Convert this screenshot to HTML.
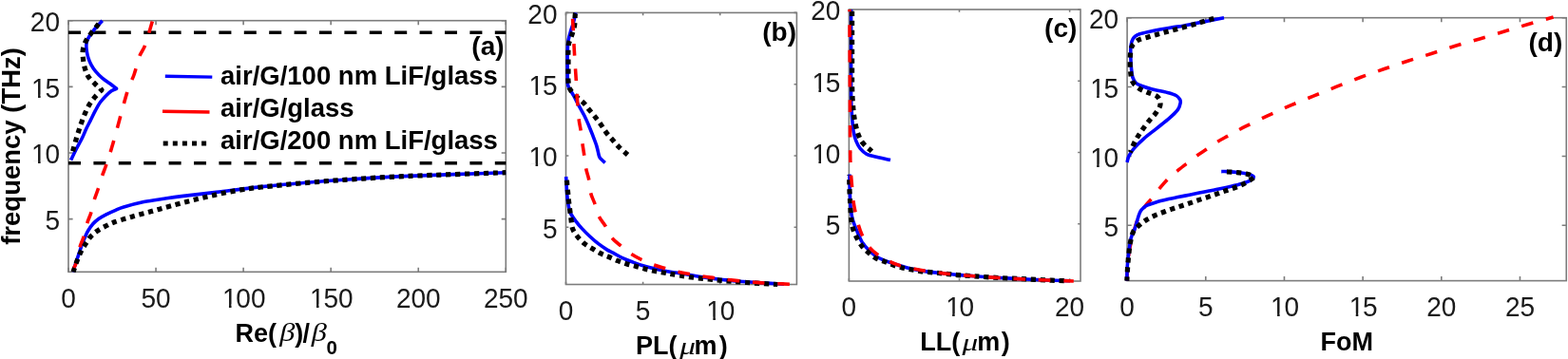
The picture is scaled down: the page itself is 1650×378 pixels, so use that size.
<!DOCTYPE html>
<html><head><meta charset="utf-8"><title>figure</title><style>html,body{margin:0;padding:0;background:#fff;}svg{display:block;}</style></head><body>
<svg width="1650" height="378" viewBox="0 0 1650 378">
<rect width="100%" height="100%" fill="#ffffff"/>
<path d="M72.00,286.30V281.70 M72.00,21.70V26.30 M164.06,286.30V281.70 M164.06,21.70V26.30 M256.12,286.30V281.70 M256.12,21.70V26.30 M348.18,286.30V281.70 M348.18,21.70V26.30 M440.24,286.30V281.70 M440.24,21.70V26.30 M532.30,286.30V281.70 M532.30,21.70V26.30 M72.00,230.59H76.60 M532.30,230.59H527.70 M72.00,160.96H76.60 M532.30,160.96H527.70 M72.00,91.33H76.60 M532.30,91.33H527.70 M72.00,21.70H76.60 M532.30,21.70H527.70 " stroke="#7c7c7c" stroke-width="1.6" fill="none"/>
<rect x="72.00" y="21.70" width="460.30" height="264.60" fill="none" stroke="#7c7c7c" stroke-width="1.6"/>
<text transform="translate(64.21,323.50) scale(1,1.06)" font-family="Liberation Sans, Arial, sans-serif" font-size="28" fill="#1a1a1a">0</text>
<text transform="translate(148.49,323.50) scale(1,1.06)" font-family="Liberation Sans, Arial, sans-serif" font-size="28" fill="#1a1a1a">50</text>
<text transform="translate(232.76,323.50) scale(1,1.06)" font-family="Liberation Sans, Arial, sans-serif" font-size="28" fill="#1a1a1a"><tspan dx="1.2">1</tspan><tspan dx="-1.2">00</tspan></text>
<rect x="235.49" y="320.38" width="5.46" height="3.92" fill="#fff"/>
<rect x="243.53" y="320.38" width="5.29" height="3.92" fill="#fff"/>
<text transform="translate(324.82,323.50) scale(1,1.06)" font-family="Liberation Sans, Arial, sans-serif" font-size="28" fill="#1a1a1a"><tspan dx="1.2">1</tspan><tspan dx="-1.2">50</tspan></text>
<rect x="327.55" y="320.38" width="5.46" height="3.92" fill="#fff"/>
<rect x="335.59" y="320.38" width="5.29" height="3.92" fill="#fff"/>
<text transform="translate(416.88,323.50) scale(1,1.06)" font-family="Liberation Sans, Arial, sans-serif" font-size="28" fill="#1a1a1a">200</text>
<text transform="translate(508.94,323.50) scale(1,1.06)" font-family="Liberation Sans, Arial, sans-serif" font-size="28" fill="#1a1a1a">250</text>
<text transform="translate(47.43,241.99) scale(1,1.06)" font-family="Liberation Sans, Arial, sans-serif" font-size="28" fill="#1a1a1a">5</text>
<text transform="translate(31.86,172.36) scale(1,1.06)" font-family="Liberation Sans, Arial, sans-serif" font-size="28" fill="#1a1a1a"><tspan dx="1.2">1</tspan><tspan dx="-1.2">0</tspan></text>
<rect x="34.59" y="169.25" width="5.46" height="3.92" fill="#fff"/>
<rect x="42.62" y="169.25" width="5.29" height="3.92" fill="#fff"/>
<text transform="translate(31.86,102.73) scale(1,1.06)" font-family="Liberation Sans, Arial, sans-serif" font-size="28" fill="#1a1a1a"><tspan dx="1.2">1</tspan><tspan dx="-1.2">5</tspan></text>
<rect x="34.59" y="99.61" width="5.46" height="3.92" fill="#fff"/>
<rect x="42.62" y="99.61" width="5.29" height="3.92" fill="#fff"/>
<text transform="translate(31.86,33.10) scale(1,1.06)" font-family="Liberation Sans, Arial, sans-serif" font-size="28" fill="#1a1a1a">20</text>
<path d="M595.50,299.50V296.64 M595.50,13.40V16.26 M676.60,299.50V296.64 M676.60,13.40V16.26 M757.70,299.50V296.64 M757.70,13.40V16.26 M595.50,239.27H598.36 M838.40,239.27H835.54 M595.50,163.98H598.36 M838.40,163.98H835.54 M595.50,88.69H598.36 M838.40,88.69H835.54 M595.50,13.40H598.36 M838.40,13.40H835.54 " stroke="#7c7c7c" stroke-width="1.6" fill="none"/>
<rect x="595.50" y="13.40" width="242.90" height="286.10" fill="none" stroke="#7c7c7c" stroke-width="1.6"/>
<text transform="translate(587.71,336.70) scale(1,1.06)" font-family="Liberation Sans, Arial, sans-serif" font-size="28" fill="#1a1a1a">0</text>
<text transform="translate(668.82,336.70) scale(1,1.06)" font-family="Liberation Sans, Arial, sans-serif" font-size="28" fill="#1a1a1a">5</text>
<text transform="translate(742.13,336.70) scale(1,1.06)" font-family="Liberation Sans, Arial, sans-serif" font-size="28" fill="#1a1a1a"><tspan dx="1.2">1</tspan><tspan dx="-1.2">0</tspan></text>
<rect x="744.86" y="333.58" width="5.46" height="3.92" fill="#fff"/>
<rect x="752.90" y="333.58" width="5.29" height="3.92" fill="#fff"/>
<text transform="translate(570.93,250.67) scale(1,1.06)" font-family="Liberation Sans, Arial, sans-serif" font-size="28" fill="#1a1a1a">5</text>
<text transform="translate(555.36,175.38) scale(1,1.06)" font-family="Liberation Sans, Arial, sans-serif" font-size="28" fill="#1a1a1a"><tspan dx="1.2">1</tspan><tspan dx="-1.2">0</tspan></text>
<rect x="558.09" y="172.26" width="5.46" height="3.92" fill="#fff"/>
<rect x="566.12" y="172.26" width="5.29" height="3.92" fill="#fff"/>
<text transform="translate(555.36,100.09) scale(1,1.06)" font-family="Liberation Sans, Arial, sans-serif" font-size="28" fill="#1a1a1a"><tspan dx="1.2">1</tspan><tspan dx="-1.2">5</tspan></text>
<rect x="558.09" y="96.97" width="5.46" height="3.92" fill="#fff"/>
<rect x="566.12" y="96.97" width="5.29" height="3.92" fill="#fff"/>
<text transform="translate(555.36,24.80) scale(1,1.06)" font-family="Liberation Sans, Arial, sans-serif" font-size="28" fill="#1a1a1a">20</text>
<path d="M893.40,296.00V293.14 M893.40,10.00V12.86 M1009.51,296.00V293.14 M1009.51,10.00V12.86 M1125.62,296.00V293.14 M1125.62,10.00V12.86 M893.40,235.79H896.26 M1137.00,235.79H1134.14 M893.40,160.53H896.26 M1137.00,160.53H1134.14 M893.40,85.26H896.26 M1137.00,85.26H1134.14 M893.40,10.00H896.26 M1137.00,10.00H1134.14 " stroke="#7c7c7c" stroke-width="1.6" fill="none"/>
<rect x="893.40" y="10.00" width="243.60" height="286.00" fill="none" stroke="#7c7c7c" stroke-width="1.6"/>
<text transform="translate(885.61,333.20) scale(1,1.06)" font-family="Liberation Sans, Arial, sans-serif" font-size="28" fill="#1a1a1a">0</text>
<text transform="translate(993.94,333.20) scale(1,1.06)" font-family="Liberation Sans, Arial, sans-serif" font-size="28" fill="#1a1a1a"><tspan dx="1.2">1</tspan><tspan dx="-1.2">0</tspan></text>
<rect x="996.67" y="330.08" width="5.46" height="3.92" fill="#fff"/>
<rect x="1004.70" y="330.08" width="5.29" height="3.92" fill="#fff"/>
<text transform="translate(1110.05,333.20) scale(1,1.06)" font-family="Liberation Sans, Arial, sans-serif" font-size="28" fill="#1a1a1a">20</text>
<text transform="translate(868.83,247.19) scale(1,1.06)" font-family="Liberation Sans, Arial, sans-serif" font-size="28" fill="#1a1a1a">5</text>
<text transform="translate(853.26,171.93) scale(1,1.06)" font-family="Liberation Sans, Arial, sans-serif" font-size="28" fill="#1a1a1a"><tspan dx="1.2">1</tspan><tspan dx="-1.2">0</tspan></text>
<rect x="855.99" y="168.81" width="5.46" height="3.92" fill="#fff"/>
<rect x="864.02" y="168.81" width="5.29" height="3.92" fill="#fff"/>
<text transform="translate(853.26,96.66) scale(1,1.06)" font-family="Liberation Sans, Arial, sans-serif" font-size="28" fill="#1a1a1a"><tspan dx="1.2">1</tspan><tspan dx="-1.2">5</tspan></text>
<rect x="855.99" y="93.55" width="5.46" height="3.92" fill="#fff"/>
<rect x="864.02" y="93.55" width="5.29" height="3.92" fill="#fff"/>
<text transform="translate(853.26,21.40) scale(1,1.06)" font-family="Liberation Sans, Arial, sans-serif" font-size="28" fill="#1a1a1a">20</text>
<path d="M1186.10,295.60V290.98 M1186.10,18.70V23.32 M1268.77,295.60V290.98 M1268.77,18.70V23.32 M1351.45,295.60V290.98 M1351.45,18.70V23.32 M1434.12,295.60V290.98 M1434.12,18.70V23.32 M1516.80,295.60V290.98 M1516.80,18.70V23.32 M1599.47,295.60V290.98 M1599.47,18.70V23.32 M1186.10,237.31H1190.72 M1648.25,237.31H1643.63 M1186.10,164.44H1190.72 M1648.25,164.44H1643.63 M1186.10,91.57H1190.72 M1648.25,91.57H1643.63 M1186.10,18.70H1190.72 M1648.25,18.70H1643.63 " stroke="#7c7c7c" stroke-width="1.6" fill="none"/>
<rect x="1186.10" y="18.70" width="462.15" height="276.90" fill="none" stroke="#7c7c7c" stroke-width="1.6"/>
<text transform="translate(1178.31,332.80) scale(1,1.06)" font-family="Liberation Sans, Arial, sans-serif" font-size="28" fill="#1a1a1a">0</text>
<text transform="translate(1260.99,332.80) scale(1,1.06)" font-family="Liberation Sans, Arial, sans-serif" font-size="28" fill="#1a1a1a">5</text>
<text transform="translate(1335.88,332.80) scale(1,1.06)" font-family="Liberation Sans, Arial, sans-serif" font-size="28" fill="#1a1a1a"><tspan dx="1.2">1</tspan><tspan dx="-1.2">0</tspan></text>
<rect x="1338.61" y="329.68" width="5.46" height="3.92" fill="#fff"/>
<rect x="1346.64" y="329.68" width="5.29" height="3.92" fill="#fff"/>
<text transform="translate(1418.55,332.80) scale(1,1.06)" font-family="Liberation Sans, Arial, sans-serif" font-size="28" fill="#1a1a1a"><tspan dx="1.2">1</tspan><tspan dx="-1.2">5</tspan></text>
<rect x="1421.28" y="329.68" width="5.46" height="3.92" fill="#fff"/>
<rect x="1429.32" y="329.68" width="5.29" height="3.92" fill="#fff"/>
<text transform="translate(1501.23,332.80) scale(1,1.06)" font-family="Liberation Sans, Arial, sans-serif" font-size="28" fill="#1a1a1a">20</text>
<text transform="translate(1583.90,332.80) scale(1,1.06)" font-family="Liberation Sans, Arial, sans-serif" font-size="28" fill="#1a1a1a">25</text>
<text transform="translate(1161.53,248.71) scale(1,1.06)" font-family="Liberation Sans, Arial, sans-serif" font-size="28" fill="#1a1a1a">5</text>
<text transform="translate(1145.96,175.84) scale(1,1.06)" font-family="Liberation Sans, Arial, sans-serif" font-size="28" fill="#1a1a1a"><tspan dx="1.2">1</tspan><tspan dx="-1.2">0</tspan></text>
<rect x="1148.69" y="172.72" width="5.46" height="3.92" fill="#fff"/>
<rect x="1156.72" y="172.72" width="5.29" height="3.92" fill="#fff"/>
<text transform="translate(1145.96,102.97) scale(1,1.06)" font-family="Liberation Sans, Arial, sans-serif" font-size="28" fill="#1a1a1a"><tspan dx="1.2">1</tspan><tspan dx="-1.2">5</tspan></text>
<rect x="1148.69" y="99.85" width="5.46" height="3.92" fill="#fff"/>
<rect x="1156.72" y="99.85" width="5.29" height="3.92" fill="#fff"/>
<text transform="translate(1145.96,30.10) scale(1,1.06)" font-family="Liberation Sans, Arial, sans-serif" font-size="28" fill="#1a1a1a">20</text>
<path d="M72.0,34.3H532.3" fill="none" stroke="#000000" stroke-width="3.5" stroke-linejoin="round" stroke-linecap="butt" stroke-dasharray="13 13.4" stroke-dashoffset="0"/>
<path d="M72.0,171.8H532.3" fill="none" stroke="#000000" stroke-width="3.5" stroke-linejoin="round" stroke-linecap="butt" stroke-dasharray="13 13.4" stroke-dashoffset="0"/>
<path d="M77.10,286.30 C77.25,285.67 77.37,284.63 78.00,282.50 C78.63,280.37 79.92,276.48 80.90,273.50 C81.88,270.52 82.90,267.57 83.90,264.60 C84.90,261.63 85.90,258.35 86.90,255.70 C87.90,253.05 88.92,250.85 89.90,248.70 C90.88,246.55 91.48,244.95 92.80,242.80 C94.12,240.65 95.98,237.85 97.80,235.80 C99.62,233.75 101.38,232.17 103.70,230.50 C106.02,228.83 108.72,227.33 111.70,225.80 C114.68,224.27 118.52,222.60 121.60,221.30 C124.68,220.00 125.23,219.45 130.20,218.00 C135.17,216.55 144.35,214.07 151.40,212.60 C158.45,211.13 165.90,210.20 172.50,209.20 C179.10,208.20 181.82,207.73 191.00,206.60 C200.18,205.47 213.57,204.07 227.60,202.40 C241.63,200.73 259.32,198.30 275.20,196.60 C291.08,194.90 307.02,193.52 322.90,192.20 C338.78,190.88 352.65,189.83 370.50,188.70 C388.35,187.57 403.05,186.57 430.00,185.40 C456.95,184.23 515.17,182.32 532.20,181.70" fill="none" stroke="#0000ff" stroke-width="3.6" stroke-linejoin="round" stroke-linecap="butt"/>
<path d="M74.60,168.60 C75.58,166.58 78.50,160.43 80.50,156.50 C82.50,152.57 84.85,148.57 86.60,145.00 C88.35,141.43 89.53,138.20 91.00,135.10 C92.47,132.00 93.82,129.55 95.40,126.40 C96.98,123.25 98.80,119.35 100.50,116.20 C102.20,113.05 103.78,110.05 105.60,107.50 C107.42,104.95 109.47,102.85 111.40,100.90 C113.33,98.95 115.33,97.07 117.20,95.80 C119.07,94.53 121.70,93.72 122.60,93.30 L122.60,93.30 C121.52,92.47 118.57,90.12 116.10,88.30 C113.63,86.48 110.38,84.58 107.80,82.40 C105.22,80.22 102.58,77.58 100.60,75.20 C98.62,72.82 97.18,70.47 95.90,68.10 C94.62,65.73 93.65,63.27 92.90,61.00 C92.15,58.73 91.75,56.62 91.40,54.50 C91.05,52.38 90.78,50.18 90.80,48.30 C90.82,46.42 90.97,44.88 91.50,43.20 C92.03,41.52 92.88,40.02 94.00,38.20 C95.12,36.38 96.70,34.18 98.20,32.30 C99.70,30.42 101.42,28.67 103.00,26.90 C104.58,25.13 106.92,22.57 107.70,21.70 " fill="none" stroke="#0000ff" stroke-width="3.6" stroke-linejoin="round" stroke-linecap="butt"/>
<path d="M77.10,286.30 C77.25,285.50 77.53,282.97 78.00,281.50 C78.47,280.03 78.92,280.98 79.90,277.50 C80.88,274.02 82.57,265.23 83.90,260.60 C85.23,255.97 86.58,254.00 87.90,249.70 C89.22,245.40 90.48,239.10 91.80,234.80 C93.12,230.50 94.53,228.07 95.80,223.90 C97.07,219.73 98.12,214.07 99.40,209.80 C100.68,205.53 102.13,202.43 103.50,198.30 C104.87,194.17 106.20,189.17 107.60,185.00 C109.00,180.83 109.97,179.13 111.90,173.30 C113.83,167.47 115.55,162.70 119.20,150.00 C122.85,137.30 130.15,109.02 133.80,97.10 C137.45,85.18 138.92,84.85 141.10,78.50 C143.28,72.15 144.93,64.23 146.90,59.00 C148.87,53.77 150.63,53.32 152.90,47.10 C155.17,40.88 159.23,25.93 160.50,21.70 " fill="none" stroke="#ff0000" stroke-width="3.6" stroke-linejoin="round" stroke-linecap="butt" stroke-dasharray="12.6 13.8" stroke-dashoffset="25.85"/>
<path d="M77.10,286.30 C77.25,285.83 77.20,285.80 78.00,283.50 C78.80,281.20 80.58,275.82 81.90,272.50 C83.22,269.18 84.42,266.40 85.90,263.60 C87.38,260.80 89.15,258.18 90.80,255.70 C92.45,253.22 93.80,250.85 95.80,248.70 C97.80,246.55 100.15,244.62 102.80,242.80 C105.45,240.98 108.73,239.30 111.70,237.80 C114.67,236.30 116.20,235.37 120.60,233.80 C125.00,232.23 131.65,230.27 138.10,228.40 C144.55,226.53 152.32,224.53 159.30,222.60 C166.28,220.67 172.58,218.82 180.00,216.80 C187.42,214.78 195.87,212.48 203.80,210.50 C211.73,208.52 219.67,206.62 227.60,204.90 C235.53,203.18 243.47,201.52 251.40,200.20 C259.33,198.88 263.28,198.30 275.20,197.00 C287.12,195.70 307.02,193.77 322.90,192.40 C338.78,191.03 352.65,189.97 370.50,188.80 C388.35,187.63 403.05,186.58 430.00,185.40 C456.95,184.22 515.17,182.32 532.20,181.70 " fill="none" stroke="#000000" stroke-width="5.2" stroke-linejoin="round" stroke-linecap="butt" stroke-dasharray="5.2 4.7" stroke-dashoffset="0.66"/>
<path d="M76.20,160.50 C76.40,159.78 76.75,158.50 77.40,156.20 C78.05,153.90 79.17,149.85 80.10,146.70 C81.03,143.55 82.03,140.32 83.00,137.30 C83.97,134.28 84.80,131.63 85.90,128.60 C87.00,125.57 88.27,122.13 89.60,119.10 C90.93,116.07 92.22,113.18 93.90,110.40 C95.58,107.62 97.52,105.03 99.70,102.40 C101.88,99.77 105.78,95.90 107.00,94.60 L107.00,94.60 C105.83,93.55 102.35,90.63 100.00,88.30 C97.65,85.97 94.68,83.37 92.90,80.60 C91.12,77.83 90.20,74.78 89.30,71.70 C88.40,68.62 87.83,65.30 87.50,62.10 C87.17,58.90 86.80,55.68 87.30,52.50 C87.80,49.32 89.08,45.88 90.50,43.00 C91.92,40.12 93.82,37.88 95.80,35.20 C97.78,32.52 100.62,29.15 102.40,26.90 C104.18,24.65 105.82,22.57 106.50,21.70 " fill="none" stroke="#000000" stroke-width="5.2" stroke-linejoin="round" stroke-linecap="butt" stroke-dasharray="5.2 4.7" stroke-dashoffset="8.55"/>
<path d="M605.90,13.40 C605.45,15.27 604.08,21.42 603.20,24.60 C602.32,27.78 601.43,29.65 600.60,32.50 C599.77,35.35 598.73,38.83 598.20,41.70 C597.67,44.57 597.58,46.65 597.40,49.70 C597.22,52.75 597.13,55.78 597.10,60.00 C597.07,64.22 597.13,70.23 597.20,75.00 C597.27,79.77 597.15,85.55 597.50,88.60 C597.85,91.65 598.25,91.23 599.30,93.30 C600.35,95.37 602.20,98.07 603.80,101.00 C605.40,103.93 607.05,107.43 608.90,110.90 C610.75,114.37 613.08,118.17 614.90,121.80 C616.72,125.43 618.32,129.22 619.80,132.70 C621.28,136.18 622.47,139.22 623.80,142.70 C625.13,146.18 626.73,150.13 627.80,153.60 C628.87,157.07 629.58,161.35 630.20,163.50 C630.82,165.65 631.28,166.00 631.50,166.50 L631.50,166.50 C632.37,167.32 635.83,170.58 636.70,171.40 " fill="none" stroke="#0000ff" stroke-width="3.6" stroke-linejoin="round" stroke-linecap="butt"/>
<path d="M595.60,186.00 C595.65,186.67 595.73,187.12 595.90,190.00 C596.07,192.88 596.28,199.30 596.60,203.30 C596.92,207.30 597.37,211.05 597.80,214.00 C598.23,216.95 598.73,219.17 599.20,221.00 C599.67,222.83 599.48,223.02 600.60,225.00 C601.72,226.98 603.90,230.25 605.90,232.90 C607.90,235.55 610.17,238.25 612.60,240.90 C615.03,243.55 617.65,246.17 620.50,248.80 C623.35,251.43 626.62,254.32 629.70,256.70 C632.78,259.08 636.45,261.52 639.00,263.10 C641.55,264.68 642.23,264.73 645.00,266.20 C647.77,267.67 652.08,270.25 655.60,271.90 C659.12,273.55 662.58,274.78 666.10,276.10 C669.62,277.42 673.17,278.73 676.70,279.80 C680.23,280.87 683.77,281.65 687.30,282.50 C690.83,283.35 694.38,284.20 697.90,284.90 C701.42,285.60 705.55,286.25 708.40,286.70 C711.25,287.15 710.45,286.85 715.00,287.60 C719.55,288.35 726.30,289.85 735.70,291.20 C745.10,292.55 759.50,294.55 771.40,295.70 C783.30,296.85 798.17,297.50 807.10,298.10 C816.03,298.70 822.02,299.10 825.00,299.30" fill="none" stroke="#0000ff" stroke-width="3.6" stroke-linejoin="round" stroke-linecap="butt"/>
<path d="M606.00,13.30 C605.87,13.75 605.43,13.80 605.20,16.00 C604.97,18.20 605.15,23.08 604.60,26.50 C604.05,29.92 602.90,33.30 601.90,36.50 C600.90,39.70 599.27,42.62 598.60,45.70 C597.93,48.78 598.00,51.82 597.90,55.00 C597.80,58.18 597.98,61.45 598.00,64.80 C598.02,68.15 598.00,71.72 598.00,75.10 C598.00,78.48 597.68,81.93 598.00,85.10 C598.32,88.27 598.38,91.27 599.90,94.10 C601.42,96.93 604.72,99.72 607.10,102.10 C609.48,104.48 612.00,106.10 614.20,108.40 C616.40,110.70 618.18,113.32 620.30,115.90 C622.42,118.48 624.88,121.33 626.90,123.90 C628.92,126.47 630.55,128.68 632.40,131.30 C634.25,133.92 636.00,136.98 638.00,139.60 C640.00,142.22 642.25,144.53 644.40,147.00 C646.55,149.47 648.22,151.73 650.90,154.40 C653.58,157.07 658.90,161.57 660.50,163.00 " fill="none" stroke="#000000" stroke-width="5.2" stroke-linejoin="round" stroke-linecap="butt" stroke-dasharray="5.2 4.7" stroke-dashoffset="8.96"/>
<path d="M596.20,186.00 C596.27,187.03 596.37,189.47 596.60,192.20 C596.83,194.93 597.28,199.15 597.60,202.40 C597.92,205.65 598.13,208.45 598.50,211.70 C598.87,214.95 599.38,218.65 599.80,221.90 C600.22,225.15 600.53,228.03 601.00,231.20 C601.47,234.37 601.45,237.88 602.60,240.90 C603.75,243.92 605.78,246.67 607.90,249.30 C610.02,251.93 612.67,254.58 615.30,256.70 C617.93,258.82 620.88,260.30 623.70,262.00 C626.52,263.70 629.37,265.48 632.20,266.90 C635.03,268.32 637.70,269.20 640.70,270.50 C643.70,271.80 647.03,273.47 650.20,274.70 C653.37,275.93 656.53,276.95 659.70,277.90 C662.87,278.85 666.02,279.52 669.20,280.40 C672.38,281.28 675.62,282.38 678.80,283.20 C681.98,284.02 685.13,284.67 688.30,285.30 C691.47,285.93 694.67,286.45 697.80,287.00 C700.93,287.55 702.17,287.78 707.10,288.60 C712.03,289.42 719.07,290.82 727.40,291.90 C735.73,292.98 747.38,294.17 757.10,295.10 C766.82,296.03 775.52,296.77 785.70,297.50 C795.88,298.23 812.78,299.17 818.20,299.50 " fill="none" stroke="#000000" stroke-width="5.2" stroke-linejoin="round" stroke-linecap="butt" stroke-dasharray="5.2 4.7" stroke-dashoffset="6.02"/>
<path d="M602.50,13.30 C602.52,14.40 602.48,16.92 602.60,19.90 C602.72,22.88 602.98,26.90 603.20,31.20 C603.42,35.50 603.67,41.18 603.90,45.70 C604.13,50.22 604.33,53.80 604.60,58.30 C604.87,62.80 605.22,68.32 605.50,72.70 C605.78,77.08 606.03,80.23 606.30,84.60 C606.57,88.97 606.83,94.53 607.10,98.90 C607.37,103.27 607.53,106.17 607.90,110.80 C608.27,115.43 608.77,122.35 609.30,126.70 C609.83,131.05 610.48,132.73 611.10,136.90 C611.72,141.07 612.38,147.23 613.00,151.70 C613.62,156.17 614.18,159.38 614.80,163.70 C615.42,168.02 615.87,173.32 616.70,177.60 C617.53,181.88 618.98,185.12 619.80,189.40 C620.62,193.68 620.52,198.97 621.60,203.30 C622.68,207.63 624.90,211.38 626.30,215.40 C627.70,219.42 628.15,223.55 630.00,227.40 C631.85,231.25 635.08,234.67 637.40,238.50 C639.72,242.33 641.23,247.00 643.90,250.40 C646.57,253.80 650.05,256.08 653.40,258.90 C656.75,261.72 660.30,264.83 664.00,267.30 C667.70,269.77 671.55,271.75 675.60,273.70 C679.65,275.65 684.25,277.52 688.30,279.00 C692.35,280.48 695.77,281.40 699.90,282.60 C704.03,283.80 708.82,285.20 713.10,286.20 C717.38,287.20 721.23,287.80 725.60,288.60 C729.97,289.40 734.93,290.32 739.30,291.00 C743.67,291.68 747.53,292.12 751.80,292.70 C756.07,293.28 760.53,294.00 764.90,294.50 C769.27,295.00 773.53,295.30 778.00,295.70 C782.47,296.10 787.23,296.50 791.70,296.90 C796.17,297.30 800.43,297.80 804.80,298.10 C809.17,298.40 813.53,298.50 817.90,298.70 C822.27,298.90 828.82,299.20 831.00,299.30 " fill="none" stroke="#ff0000" stroke-width="3.6" stroke-linejoin="round" stroke-linecap="butt" stroke-dasharray="12.6 13.8" stroke-dashoffset="19.95"/>
<path d="M895.60,10.00 C895.60,18.33 895.60,45.00 895.60,60.00 C895.60,75.00 895.52,90.80 895.60,100.00 C895.68,109.20 895.88,110.67 896.10,115.20 C896.32,119.73 896.53,123.20 896.90,127.20 C897.27,131.20 897.63,135.62 898.30,139.20 C898.97,142.78 899.75,145.83 900.90,148.70 C902.05,151.57 903.33,154.12 905.20,156.40 C907.07,158.68 909.23,160.92 912.10,162.40 C914.97,163.88 918.25,164.28 922.40,165.30 C926.55,166.32 934.57,167.97 937.00,168.50" fill="none" stroke="#0000ff" stroke-width="3.6" stroke-linejoin="round" stroke-linecap="butt"/>
<path d="M894.00,183.50 C894.07,187.08 894.15,198.58 894.40,205.00 C894.65,211.42 894.98,217.50 895.50,222.00 C896.02,226.50 896.58,228.80 897.50,232.00 C898.42,235.20 899.47,237.52 901.00,241.20 C902.53,244.88 904.52,250.42 906.70,254.10 C908.88,257.78 911.33,260.53 914.10,263.30 C916.87,266.07 919.60,268.53 923.30,270.70 C927.00,272.87 931.05,274.43 936.30,276.30 C941.55,278.17 948.63,280.35 954.80,281.90 C960.97,283.45 967.12,284.62 973.30,285.60 C979.48,286.58 985.78,287.13 991.90,287.80 C998.02,288.47 1004.42,289.10 1010.00,289.60 C1015.58,290.10 1018.58,290.32 1025.40,290.80 C1032.22,291.28 1042.42,292.02 1050.90,292.50 C1059.38,292.98 1067.82,293.28 1076.30,293.70 C1084.78,294.12 1093.52,294.65 1101.80,295.00 C1110.08,295.35 1121.97,295.67 1126.00,295.80" fill="none" stroke="#0000ff" stroke-width="3.6" stroke-linejoin="round" stroke-linecap="butt"/>
<path d="M896.60,10.00 C896.60,18.33 896.58,46.07 896.60,60.00 C896.62,73.93 896.52,84.83 896.70,93.60 C896.88,102.37 897.35,107.72 897.70,112.60 C898.05,117.48 898.33,119.60 898.80,122.90 C899.27,126.20 899.77,129.25 900.50,132.40 C901.23,135.55 901.98,138.80 903.20,141.80 C904.42,144.80 905.45,147.48 907.80,150.40 C910.15,153.32 915.72,157.82 917.30,159.30 " fill="none" stroke="#000000" stroke-width="5.2" stroke-linejoin="round" stroke-linecap="butt" stroke-dasharray="5.2 4.7" stroke-dashoffset="7.91"/>
<path d="M893.60,184.00 C893.63,185.23 893.73,188.57 893.80,191.40 C893.87,194.23 893.88,197.82 894.00,201.00 C894.12,204.18 894.33,207.33 894.50,210.50 C894.67,213.67 894.80,216.63 895.00,220.00 C895.20,223.37 895.30,227.33 895.70,230.70 C896.10,234.07 896.50,237.08 897.40,240.20 C898.30,243.32 899.55,246.32 901.10,249.40 C902.65,252.48 904.70,256.07 906.70,258.70 C908.70,261.33 910.63,263.03 913.10,265.20 C915.57,267.37 918.57,270.00 921.50,271.70 C924.43,273.40 927.62,274.17 930.70,275.40 C933.78,276.63 936.90,278.02 940.00,279.10 C943.10,280.18 946.22,281.13 949.30,281.90 C952.38,282.67 955.27,283.08 958.50,283.70 C961.73,284.32 963.78,284.97 968.70,285.60 C973.62,286.23 981.52,286.83 988.00,287.50 C994.48,288.17 1001.37,289.05 1007.60,289.60 C1013.83,290.15 1018.18,290.32 1025.40,290.80 C1032.62,291.28 1042.42,292.02 1050.90,292.50 C1059.38,292.98 1067.82,293.28 1076.30,293.70 C1084.78,294.12 1094.18,294.65 1101.80,295.00 C1109.42,295.35 1118.63,295.67 1122.00,295.80 " fill="none" stroke="#000000" stroke-width="5.2" stroke-linejoin="round" stroke-linecap="butt" stroke-dasharray="5.2 4.7" stroke-dashoffset="4.58"/>
<path d="M894.00,10.00 C894.03,18.33 894.13,45.00 894.20,60.00 C894.27,75.00 894.33,85.00 894.40,100.00 C894.47,115.00 894.50,137.50 894.60,150.00 C894.70,162.50 894.73,168.00 895.00,175.00 C895.27,182.00 895.73,186.17 896.20,192.00 C896.67,197.83 897.20,205.00 897.80,210.00 C898.40,215.00 898.90,217.58 899.80,222.00 C900.70,226.42 901.97,232.25 903.20,236.50 C904.43,240.75 905.38,243.67 907.20,247.50 C909.02,251.33 911.42,256.08 914.10,259.50 C916.78,262.92 919.60,265.35 923.30,268.00 C927.00,270.65 932.43,273.48 936.30,275.40 C940.17,277.32 942.48,278.27 946.50,279.50 C950.52,280.73 956.08,281.88 960.40,282.80 C964.72,283.72 968.08,284.32 972.40,285.00 C976.72,285.68 981.82,286.32 986.30,286.90 C990.78,287.48 992.78,287.85 999.30,288.50 C1005.82,289.15 1016.80,290.13 1025.40,290.80 C1034.00,291.47 1042.42,291.98 1050.90,292.50 C1059.38,293.02 1067.82,293.48 1076.30,293.90 C1084.78,294.32 1092.88,294.65 1101.80,295.00 C1110.72,295.35 1125.13,295.83 1129.80,296.00 " fill="none" stroke="#ff0000" stroke-width="3.6" stroke-linejoin="round" stroke-linecap="butt" stroke-dasharray="12.6 13.8" stroke-dashoffset="10.10"/>
<path d="M1186.00,295.60 C1186.08,293.00 1186.03,285.60 1186.50,280.00 C1186.97,274.40 1187.75,267.83 1188.80,262.00 C1189.85,256.17 1191.40,250.17 1192.80,245.00 C1194.20,239.83 1195.28,235.52 1197.20,231.00 C1199.12,226.48 1201.73,221.68 1204.30,217.90 C1206.87,214.12 1210.02,211.48 1212.60,208.30 C1215.18,205.12 1217.02,202.17 1219.80,198.80 C1222.58,195.43 1226.33,191.07 1229.30,188.10 C1232.27,185.13 1234.43,183.58 1237.60,181.00 C1240.77,178.42 1244.73,175.38 1248.30,172.60 C1251.87,169.82 1255.42,166.88 1259.00,164.30 C1262.58,161.72 1266.10,159.62 1269.80,157.10 C1273.50,154.58 1277.42,151.57 1281.20,149.20 C1284.98,146.83 1287.62,145.57 1292.50,142.90 C1297.38,140.23 1303.60,136.70 1310.50,133.20 C1317.40,129.70 1326.03,125.57 1333.90,121.90 C1341.77,118.23 1349.67,114.67 1357.70,111.20 C1365.73,107.73 1373.95,104.43 1382.10,101.10 C1390.25,97.77 1398.38,94.47 1406.60,91.20 C1414.82,87.93 1423.17,84.57 1431.40,81.50 C1439.63,78.43 1447.68,75.68 1456.00,72.80 C1464.32,69.92 1472.93,66.92 1481.30,64.20 C1489.67,61.48 1497.82,59.15 1506.20,56.50 C1514.58,53.85 1523.13,50.90 1531.60,48.30 C1540.07,45.70 1548.53,43.40 1557.00,40.90 C1565.47,38.40 1574.02,35.82 1582.40,33.30 C1590.78,30.78 1598.60,28.37 1607.30,25.80 C1616.00,23.23 1630.05,19.22 1634.60,17.90 " fill="none" stroke="#ff0000" stroke-width="3.6" stroke-linejoin="round" stroke-linecap="butt" stroke-dasharray="12.6 13.8" stroke-dashoffset="0.15"/>
<path d="M1186.00,171.00 C1186.32,169.90 1186.70,166.83 1187.90,164.40 C1189.10,161.97 1190.55,159.50 1193.20,156.40 C1195.85,153.30 1199.83,149.32 1203.80,145.80 C1207.77,142.28 1212.58,138.82 1217.00,135.30 C1221.42,131.78 1226.55,128.02 1230.30,124.70 C1234.05,121.38 1237.52,118.18 1239.50,115.40 C1241.48,112.62 1241.87,109.82 1242.20,108.00 C1242.53,106.18 1242.28,105.75 1241.50,104.50 C1240.72,103.25 1239.67,101.67 1237.50,100.50 C1235.33,99.33 1232.67,98.58 1228.50,97.50 C1224.33,96.42 1217.00,95.17 1212.50,94.00 C1208.00,92.83 1204.33,91.58 1201.50,90.50 C1198.67,89.42 1197.10,89.02 1195.50,87.50 C1193.90,85.98 1192.73,84.00 1191.90,81.40 C1191.07,78.80 1190.83,75.13 1190.50,71.90 C1190.17,68.67 1190.02,65.32 1189.90,62.00 C1189.78,58.68 1189.72,54.67 1189.80,52.00 C1189.88,49.33 1190.02,47.80 1190.40,46.00 C1190.78,44.20 1191.42,42.50 1192.10,41.20 C1192.78,39.90 1193.30,39.10 1194.50,38.20 C1195.70,37.30 1196.92,36.58 1199.30,35.80 C1201.68,35.02 1205.23,34.28 1208.80,33.50 C1212.37,32.72 1216.73,31.85 1220.70,31.10 C1224.67,30.35 1228.55,29.65 1232.60,29.00 C1236.65,28.35 1241.12,27.85 1245.00,27.20 C1248.88,26.55 1251.45,25.98 1255.90,25.10 C1260.35,24.22 1266.35,22.97 1271.70,21.90 C1277.05,20.83 1285.28,19.23 1288.00,18.70 " fill="none" stroke="#0000ff" stroke-width="3.6" stroke-linejoin="round" stroke-linecap="butt"/>
<path d="M1285.20,180.60 C1286.18,180.60 1287.90,180.40 1291.10,180.60 C1294.30,180.80 1300.42,181.30 1304.40,181.80 C1308.38,182.30 1312.52,182.85 1315.00,183.60 C1317.48,184.35 1319.30,185.17 1319.30,186.30 C1319.30,187.43 1317.48,189.10 1315.00,190.40 C1312.52,191.70 1308.38,192.95 1304.40,194.10 C1300.42,195.25 1295.52,196.33 1291.10,197.30 C1286.68,198.27 1282.30,199.03 1277.90,199.90 C1273.50,200.77 1269.10,201.62 1264.70,202.50 C1260.30,203.38 1255.92,204.32 1251.50,205.20 C1247.08,206.08 1241.83,207.07 1238.20,207.80 C1234.57,208.53 1233.32,208.75 1229.70,209.60 C1226.08,210.45 1220.25,211.80 1216.50,212.90 C1212.75,214.00 1209.52,215.10 1207.20,216.20 C1204.88,217.30 1203.82,218.40 1202.60,219.50 C1201.38,220.60 1200.68,221.37 1199.90,222.80 C1199.12,224.23 1198.55,226.12 1197.90,228.10 C1197.25,230.08 1196.65,232.50 1196.00,234.70 C1195.35,236.90 1194.98,238.58 1194.00,241.30 C1193.02,244.02 1191.12,247.13 1190.10,251.00 C1189.08,254.87 1188.53,259.63 1187.90,264.50 C1187.27,269.37 1186.65,275.02 1186.30,280.20 C1185.95,285.38 1185.88,293.03 1185.80,295.60" fill="none" stroke="#0000ff" stroke-width="3.6" stroke-linejoin="round" stroke-linecap="butt"/>
<path d="M1189.30,160.40 C1190.18,158.42 1192.62,152.25 1194.60,148.50 C1196.58,144.75 1198.78,141.43 1201.20,137.90 C1203.62,134.37 1206.47,130.60 1209.10,127.30 C1211.73,124.00 1215.02,120.97 1217.00,118.10 C1218.98,115.23 1220.77,112.75 1221.00,110.10 C1221.23,107.45 1220.27,104.20 1218.40,102.20 C1216.53,100.20 1211.78,98.98 1209.80,98.10 C1207.82,97.22 1208.30,97.70 1206.50,96.90 C1204.70,96.10 1201.43,95.08 1199.00,93.30 C1196.57,91.52 1193.48,89.37 1191.90,86.20 C1190.32,83.03 1189.93,78.67 1189.50,74.30 C1189.07,69.93 1189.17,63.72 1189.30,60.00 C1189.43,56.28 1189.83,54.15 1190.30,52.00 C1190.77,49.85 1190.70,48.80 1192.10,47.10 C1193.50,45.40 1196.12,43.12 1198.70,41.80 C1201.28,40.48 1204.53,40.10 1207.60,39.20 C1210.67,38.30 1213.92,37.30 1217.10,36.40 C1220.28,35.50 1223.52,34.67 1226.70,33.80 C1229.88,32.93 1232.98,32.07 1236.20,31.20 C1239.42,30.33 1242.78,29.48 1246.00,28.60 C1249.22,27.72 1252.33,26.82 1255.50,25.90 C1258.67,24.98 1261.83,24.03 1265.00,23.10 C1268.17,22.17 1272.17,21.00 1274.50,20.30 C1276.83,19.60 1278.25,19.13 1279.00,18.90 " fill="none" stroke="#000000" stroke-width="5.2" stroke-linejoin="round" stroke-linecap="butt" stroke-dasharray="5.2 4.7" stroke-dashoffset="3.03"/>
<path d="M1288.80,181.00 C1289.30,181.00 1289.65,180.90 1291.80,181.00 C1293.95,181.10 1298.28,181.23 1301.70,181.60 C1305.12,181.97 1309.43,182.43 1312.30,183.20 C1315.17,183.97 1318.02,185.37 1318.90,186.20 C1319.78,187.03 1319.25,186.98 1317.60,188.20 C1315.95,189.42 1311.98,191.95 1309.00,193.50 C1306.02,195.05 1302.90,196.28 1299.70,197.50 C1296.50,198.72 1292.98,199.70 1289.80,200.80 C1286.62,201.90 1283.68,203.00 1280.60,204.10 C1277.52,205.20 1274.40,206.35 1271.30,207.40 C1268.20,208.45 1265.08,209.37 1262.00,210.40 C1258.92,211.43 1255.88,212.55 1252.80,213.60 C1249.72,214.65 1246.58,215.68 1243.50,216.70 C1240.42,217.72 1237.37,218.65 1234.30,219.70 C1231.23,220.75 1228.18,221.83 1225.10,223.00 C1222.02,224.17 1218.78,225.37 1215.80,226.70 C1212.82,228.03 1209.85,229.40 1207.20,231.00 C1204.55,232.60 1202.30,234.23 1199.90,236.30 C1197.50,238.37 1194.55,240.20 1192.80,243.40 C1191.05,246.60 1190.22,251.62 1189.40,255.50 C1188.58,259.38 1188.35,262.58 1187.90,266.70 C1187.45,270.82 1187.05,275.38 1186.70,280.20 C1186.35,285.02 1185.95,293.03 1185.80,295.60 " fill="none" stroke="#000000" stroke-width="5.2" stroke-linejoin="round" stroke-linecap="butt" stroke-dasharray="5.2 4.7" stroke-dashoffset="7.55"/>
<line x1="173.8" y1="80.2" x2="223.3" y2="81.1" stroke="#0000ff" stroke-width="3.4"/>
<line x1="171.0" y1="117.3" x2="220.5" y2="118.0" stroke="#ff0000" stroke-width="3.4"/>
<line x1="171.7" y1="151" x2="218" y2="151" stroke="#000000" stroke-width="4.9" stroke-dasharray="5.0 5.1"/>
<text x="232" y="88.8" font-family="Liberation Sans, Arial, sans-serif" font-size="27.5" font-weight="bold" fill="#000">air/G/100 nm LiF/glass</text>
<text x="232" y="123.1" font-family="Liberation Sans, Arial, sans-serif" font-size="27.5" font-weight="bold" fill="#000">air/G/glass</text>
<text x="232" y="157" font-family="Liberation Sans, Arial, sans-serif" font-size="27.5" font-weight="bold" fill="#000">air/G/200 nm LiF/glass</text>
<text x="530.6" y="57.5" text-anchor="end" font-family="Liberation Sans, Arial, sans-serif" font-size="28" font-weight="bold" fill="#000">(a)</text>
<text x="838" y="42.6" text-anchor="end" font-family="Liberation Sans, Arial, sans-serif" font-size="28" font-weight="bold" fill="#000">(b)</text>
<text x="1133.3" y="38.6" text-anchor="end" font-family="Liberation Sans, Arial, sans-serif" font-size="28" font-weight="bold" fill="#000">(c)</text>
<text x="1644.3" y="54.2" text-anchor="end" font-family="Liberation Sans, Arial, sans-serif" font-size="28" font-weight="bold" fill="#000">(d)</text>
<text y="359.5" font-family="Liberation Sans, Arial, sans-serif" font-size="27" font-weight="bold" fill="#000"><tspan x="247.5">Re(</tspan><tspan x="310.3">)</tspan><tspan x="318.5">/</tspan></text>
<text transform="translate(294.32,359.00) scale(1.200,1)" font-family="Liberation Serif, serif" font-size="27" font-style="italic" font-weight="normal" fill="#000">β</text>
<text transform="translate(327.82,359.00) scale(1.200,1)" font-family="Liberation Serif, serif" font-size="27" font-style="italic" font-weight="normal" fill="#000">β</text>
<text x="343.6" y="373" font-family="Liberation Sans, Arial, sans-serif" font-size="20.5" font-weight="bold" fill="#000">0</text>
<text y="372.5" font-family="Liberation Sans, Arial, sans-serif" font-size="27" font-weight="bold" fill="#000"><tspan x="669.1">PL(</tspan><tspan x="730.4">m</tspan><tspan x="756.7">)</tspan></text>
<text transform="translate(715.33,372.50) scale(1.280,1)" font-family="Liberation Serif, serif" font-size="26" font-style="italic" font-weight="normal" fill="#000">μ</text>
<text y="369.1" font-family="Liberation Sans, Arial, sans-serif" font-size="27" font-weight="bold" fill="#000"><tspan x="968.2">LL(</tspan><tspan x="1028.3">m</tspan><tspan x="1053.8">)</tspan></text>
<text transform="translate(1012.43,369.10) scale(1.280,1)" font-family="Liberation Serif, serif" font-size="26" font-style="italic" font-weight="normal" fill="#000">μ</text>
<text x="1389.5" y="369.1" font-family="Liberation Sans, Arial, sans-serif" font-size="27" font-weight="bold" fill="#000">FoM</text>
<text transform="translate(21.2,153.9) rotate(-90)" text-anchor="middle" font-family="Liberation Sans, Arial, sans-serif" font-size="27.5" font-weight="bold" fill="#000">frequency (THz)</text>
</svg>
</body></html>
